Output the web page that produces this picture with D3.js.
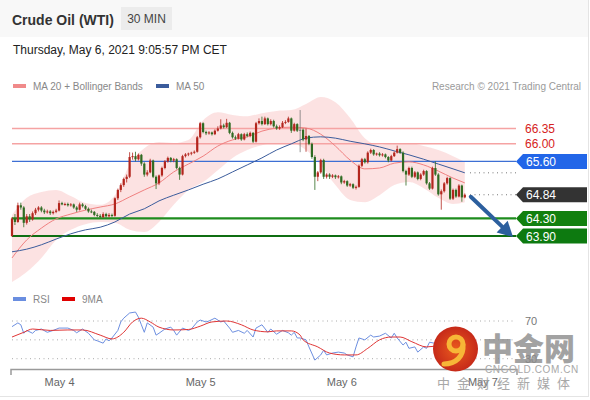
<!DOCTYPE html>
<html>
<head>
<meta charset="utf-8">
<script src="https://cdn.jsdelivr.net/npm/d3@7"></script>
<style>
  html, body { margin: 0; padding: 0; background: #fff; }
  svg { display: block; font-family: "Liberation Sans", Arial, sans-serif; }
</style>
</head>
<body>
<div id="chart"></div>
<script>
// 30 min candles, May 3 16:00 -> May 6 21:00 CET  [open, high, low, close]
const candles = [
  [63.90,64.33,63.88,64.30],[64.30,64.40,64.15,64.22],[64.22,64.66,64.20,64.60],[64.60,64.66,64.50,64.55],[64.55,64.58,64.10,64.20],
  [64.20,64.40,64.16,64.35],[64.35,64.40,64.22,64.28],[64.28,64.46,64.25,64.42],[64.42,64.54,64.38,64.50],[64.50,64.58,64.46,64.55],
  [64.55,64.58,64.44,64.48],[64.48,64.52,64.40,64.44],[64.44,64.50,64.41,64.46],[64.46,64.49,64.38,64.42],[64.42,64.48,64.39,64.45],
  [64.45,64.52,64.42,64.48],[64.48,64.71,64.46,64.65],[64.65,64.68,64.60,64.62],[64.62,64.66,64.59,64.63],[64.63,64.66,64.57,64.60],
  [64.60,64.65,64.57,64.62],[64.62,64.64,64.52,64.55],[64.55,64.58,64.45,64.50],[64.50,64.66,64.48,64.62],[64.62,64.65,64.55,64.58],
  [64.58,64.61,64.49,64.52],[64.52,64.55,64.43,64.46],[64.46,64.50,64.42,64.45],[64.45,64.47,64.35,64.38],[64.38,64.42,64.33,64.36],
  [64.36,64.40,64.31,64.33],[64.33,64.44,64.31,64.40],[64.40,64.43,64.32,64.35],[64.35,64.42,64.32,64.38],[64.38,64.41,64.33,64.36],
  [64.36,64.78,64.34,64.76],[64.76,64.98,64.72,64.95],[64.95,65.10,64.90,65.06],[65.06,65.23,65.02,65.20],[65.20,65.30,65.12,65.25],
  [65.25,65.81,65.22,65.70],[65.70,65.80,65.64,65.72],[65.72,65.82,65.60,65.65],[65.65,65.78,65.62,65.75],[65.75,65.77,65.50,65.55],
  [65.55,65.58,65.25,65.30],[65.30,65.40,65.26,65.35],[65.35,65.66,65.33,65.62],[65.62,65.64,65.22,65.25],[65.25,65.28,64.97,65.10],
  [65.10,65.30,65.06,65.28],[65.28,65.48,65.25,65.45],[65.45,65.63,65.42,65.60],[65.60,65.71,65.57,65.68],[65.68,65.70,65.58,65.62],
  [65.62,65.68,65.58,65.65],[65.65,65.67,65.42,65.45],[65.45,65.48,65.18,65.30],[65.30,65.75,65.28,65.72],[65.72,65.79,65.69,65.76],
  [65.76,65.80,65.72,65.78],[65.78,65.82,65.74,65.80],[65.80,65.85,65.77,65.82],[65.82,66.18,65.80,66.15],[66.15,66.50,66.12,66.47],
  [66.47,66.49,66.24,66.27],[66.27,66.30,66.20,66.24],[66.24,66.29,66.21,66.26],[66.26,66.28,66.19,66.22],[66.22,66.33,66.20,66.30],
  [66.30,66.40,66.28,66.35],[66.35,66.56,66.33,66.42],[66.42,66.46,66.35,66.38],[66.38,66.57,66.36,66.48],[66.48,66.50,66.22,66.25],
  [66.25,66.28,66.12,66.15],[66.15,66.19,66.09,66.12],[66.12,66.25,66.10,66.22],[66.22,66.24,66.07,66.10],[66.10,66.25,66.08,66.22],
  [66.22,66.26,66.15,66.18],[66.18,66.28,66.15,66.25],[66.25,66.27,66.02,66.05],[66.05,66.50,66.03,66.47],[66.47,66.58,66.44,66.52],
  [66.52,66.62,66.42,66.45],[66.45,66.62,66.43,66.58],[66.58,66.60,66.42,66.45],[66.45,66.56,66.42,66.52],[66.52,66.55,66.37,66.40],
  [66.40,66.44,66.32,66.35],[66.35,66.42,66.32,66.38],[66.38,66.52,66.36,66.48],[66.48,66.54,66.45,66.50],[66.50,66.62,66.48,66.58],
  [66.58,66.60,66.25,66.30],[66.30,66.48,66.28,66.45],[66.45,66.47,66.27,66.30],[66.30,66.77,65.81,66.32],[66.32,66.35,66.06,66.10],
  [66.10,66.35,65.82,66.18],[66.18,66.20,65.97,66.00],[66.00,66.03,65.66,65.70],[65.70,65.74,64.95,65.25],[65.25,65.38,65.15,65.35],
  [65.35,65.66,65.32,65.63],[65.63,65.66,65.20,65.25],[65.25,65.33,65.21,65.30],[65.30,65.33,65.20,65.25],[65.25,65.31,65.22,65.28],
  [65.28,65.30,65.20,65.24],[65.24,65.29,65.21,65.26],[65.26,65.28,65.08,65.12],[65.12,65.18,65.09,65.15],[65.15,65.17,65.02,65.05],
  [65.05,65.11,65.02,65.08],[65.08,65.10,64.97,65.00],[65.00,65.05,64.96,65.02],[65.02,65.53,65.00,65.50],[65.50,65.68,65.47,65.65],
  [65.65,65.68,65.55,65.58],[65.58,65.83,65.55,65.80],[65.80,65.89,65.77,65.86],[65.86,65.88,65.73,65.76],[65.76,65.80,65.73,65.78],
  [65.78,65.81,65.71,65.74],[65.74,65.79,65.71,65.76],[65.76,65.78,65.67,65.70],[65.70,65.72,65.58,65.62],[65.62,65.75,65.60,65.72],
  [65.72,65.83,65.70,65.80],[65.80,65.96,65.78,65.88],[65.88,65.90,65.77,65.80],[65.80,65.83,65.35,65.38],[65.38,65.41,65.05,65.30],
  [65.30,65.48,65.27,65.45],[65.45,65.48,65.22,65.25],[65.25,65.38,65.22,65.35],[65.35,65.37,65.17,65.20],[65.20,65.33,65.17,65.30],
  [65.30,65.41,65.27,65.38],[65.38,65.40,65.07,65.10],[65.10,65.13,64.95,64.98],[64.98,65.48,64.96,65.45],[65.45,65.60,65.27,65.30],
  [65.30,65.33,64.82,64.85],[64.85,64.96,64.50,64.92],[64.92,65.13,64.89,65.10],[65.10,65.25,65.07,65.22],[65.22,65.24,64.72,64.75],
  [64.75,64.98,64.72,64.95],[64.95,64.98,64.77,64.80],[64.80,65.08,64.78,65.05],[65.05,65.07,64.68,64.78],[64.78,64.87,64.76,64.84]
];
const startTime = new Date(2021, 4, 3, 16, 0);

// moving averages / bollinger bands, sampled at candle indexes
const maAt    = [0, 5, 10, 15, 20, 25, 30, 35, 40, 45, 50, 55, 60, 65, 70, 75, 80, 85, 90, 95, 100, 105, 110, 115, 120, 125, 130, 135, 140, 145, 150, 154];
const ma20    = [63.40,63.81,64.08,64.29,64.40,64.49,64.56,64.63,64.79,64.95,65.11,65.36,65.54,65.72,65.95,66.09,66.16,66.29,66.36,66.38,66.36,66.22,65.95,65.63,65.43,65.45,65.56,65.59,65.52,65.38,65.22,65.11];
const ma50    = [63.54,63.60,63.70,63.83,63.95,64.04,64.10,64.22,64.40,64.52,64.70,64.83,64.95,65.08,65.20,65.36,65.52,65.68,65.86,66.00,66.13,66.16,66.13,66.06,66.00,65.93,65.84,65.75,65.65,65.54,65.43,65.34];
const bbUpper = [64.38,64.77,64.90,64.95,64.81,64.65,64.61,64.83,65.52,65.90,66.04,66.02,66.09,66.54,66.72,66.66,66.63,66.70,66.75,66.77,66.91,67.07,66.95,66.59,66.13,65.97,66.02,66.02,65.95,65.86,65.72,65.59];
const bbLower = [62.85,63.08,63.40,63.81,64.04,64.17,64.22,64.20,64.04,63.99,64.22,64.61,64.95,65.13,65.40,65.68,65.86,65.97,66.02,66.02,65.86,65.52,65.06,64.72,64.67,64.83,65.06,65.13,64.99,64.77,64.63,64.67];

// RSI and its 9 period MA
const rsiAt = [0,2,3,4,5,7,8,10,12,14,16,19,21,22,24,26,28,29,31,32,33,34,36,37,38,40,42,43,44,45,46,48,49,50,52,54,55,56,58,60,61,63,64,66,67,69,71,72,74,75,77,79,80,82,83,85,87,88,90,92,94,95,96,97,98,100,101,103,105,106,107,109,111,113,114,116,117,118,120,122,123,125,127,129,130,131,133,134,135,137,138,140,141,142,146,149,152,154];
const rsi   = [64,68,66,57,60,57,60,61.5,58,60,62.5,62.5,60,57.5,61.5,57,50,49,46.5,51,49,52,60,69,73,78.5,79.5,74,66,58,68,63.5,55,57,61.5,63.5,60,55,62.5,60,61.5,69,71,69,70,73,69,70,62.5,58,60,57,60,53,62.5,66,58,61.5,56,60,57.5,55,58,52,52,50,42.5,28.5,34,39,34,36,37,36,34,32,42.5,52,50,55,53,54,57,52,57,52,44.5,47.5,41,42.5,37,42.5,41,47.5,45,40,38,40];
const rsiMaAt = [0,4,7,13,19,24,30,34,38,41,44,47,50,55,60,64,68,73,78,82,87,90,95,98,99,104,108,113,117,121,125,129,132,136,141,147,154];
const rsiMa   = [53,58,61.5,60,60.5,60.5,55,51,58,69,73,69,63.5,60.5,61,64.5,69,70,66,60.5,58.5,59.5,59.5,55,50,42.5,36,34,34,41,50,53,53,48,42.5,44,42];
const rsiLevels = [70, 50, 30];

// key levels
const resistances = [66.35, 66.00];
const pivot = 65.60;
const supports = [64.30, 63.90];
const dayTicks = [new Date(2021, 4, 4), new Date(2021, 4, 5), new Date(2021, 4, 6), new Date(2021, 4, 7)];

const W = 590, H = 400;
const plotLeft = 12, levelRight = 516, tagRight = 587;
const upColor = '#b3261e', downColor = '#2f6b22';

const svg = d3.select('#chart').append('svg')
  .attr('width', W)
  .attr('height', H);

// card background
svg.append('rect').attr('width', W).attr('height', H).attr('fill', '#fff');
svg.append('rect').attr('width', 588).attr('height', 37).attr('fill', '#f8f8f8');
svg.append('line').attr('x1', 588.5).attr('x2', 588.5).attr('y1', 0).attr('y2', 397)
  .attr('stroke', '#e4e4e4');
svg.append('line').attr('x1', 0).attr('x2', 589).attr('y1', 396.5).attr('y2', 396.5)
  .attr('stroke', '#e4e4e4');

// header
svg.append('text').attr('x', 12).attr('y', 25)
  .attr('font-size', 14).attr('font-weight', 'bold').attr('fill', '#333')
  .text('Crude Oil (WTI)');
svg.append('rect').attr('x', 121).attr('y', 7).attr('width', 51).attr('height', 23)
  .attr('fill', '#ececec');
svg.append('text').attr('x', 146.5).attr('y', 23).attr('text-anchor', 'middle')
  .attr('font-size', 12).attr('fill', '#444').text('30 MIN');
svg.append('text').attr('x', 13).attr('y', 54)
  .attr('font-size', 12).attr('fill', '#222')
  .text('Thursday, May 6, 2021 9:05:57 PM CET');

// legend
const legend = [
  { x: 13, color: '#f08a8a', label: 'MA 20 + Bollinger Bands' },
  { x: 156, color: '#3b5c9c', label: 'MA 50' }
];
legend.forEach(function(d) {
  svg.append('rect').attr('x', d.x).attr('y', 84).attr('width', 13).attr('height', 4).attr('fill', d.color);
  svg.append('text').attr('x', d.x + 20).attr('y', 90).attr('font-size', 10).attr('fill', '#888').text(d.label);
});
svg.append('text').attr('x', 581).attr('y', 90).attr('text-anchor', 'end')
  .attr('font-size', 10).attr('fill', '#9a9a9a').text('Research \u00a9 2021 Trading Central');

// scales
const timeAt = (i) => d3.timeMinute.offset(startTime, 30 * i);
const x = d3.scaleTime()
  .domain([timeAt(0), timeAt(candles.length - 1)])
  .range([plotLeft, 464.8]);
const y = d3.scaleLinear().domain([63.90, 66.35]).range([236, 128.5]);
const yr = d3.scaleLinear().domain([30, 70]).range([358.7, 321]);

const g = svg.append('g').attr('class', 'price');

// bollinger band
const band = d3.area()
  .curve(d3.curveMonotoneX)
  .x((d, k) => x(timeAt(maAt[k])))
  .y0((d, k) => y(bbLower[k]))
  .y1((d, k) => y(bbUpper[k]));
g.append('path').attr('d', band(maAt)).attr('fill', '#fbd3d3').attr('opacity', 0.65);

// horizontal levels
resistances.forEach(function(v) {
  g.append('line').attr('x1', plotLeft).attr('x2', levelRight).attr('y1', y(v)).attr('y2', y(v))
    .attr('stroke', '#f5a3a3').attr('stroke-width', 1.5);
  g.append('text').attr('x', 525).attr('y', y(v) + 4.5).attr('font-size', 12).attr('fill', '#d62222')
    .text(v.toFixed(2));
});
g.append('line').attr('x1', plotLeft).attr('x2', levelRight).attr('y1', y(pivot)).attr('y2', y(pivot))
  .attr('stroke', '#3d6fd4').attr('stroke-width', 1.2);
supports.forEach(function(v, k) {
  g.append('line').attr('x1', plotLeft).attr('x2', levelRight).attr('y1', y(v)).attr('y2', y(v))
    .attr('stroke', k === 0 ? '#1e8c1e' : '#0f6e12').attr('stroke-width', 2.2);
});

// moving averages
const maLine = (arr) => d3.line()
  .curve(d3.curveMonotoneX)
  .x((d, k) => x(timeAt(maAt[k])))
  .y((d, k) => y(arr[k]));
g.append('path').attr('d', maLine(ma20)(maAt)).attr('fill', 'none').attr('stroke', '#f08080').attr('stroke-width', 1);
g.append('path').attr('d', maLine(ma50)(maAt)).attr('fill', 'none').attr('stroke', '#3b5c9c').attr('stroke-width', 1);

// candles
const candleColor = function(d) {
  if (Math.abs(d[3] - d[0]) < 0.05 && d[1] - d[2] > 0.6) return '#777';
  return d[3] >= d[0] ? upColor : downColor;
};
const candle = g.selectAll('.candle')
  .data(candles)
  .enter()
  .append('g')
  .attr('class', 'candle');
candle.append('line')
  .attr('x1', (d, i) => x(timeAt(i)))
  .attr('x2', (d, i) => x(timeAt(i)))
  .attr('y1', (d) => y(d[1]))
  .attr('y2', (d) => y(d[2]))
  .attr('stroke', candleColor)
  .attr('stroke-width', 0.8);
candle.append('rect')
  .attr('x', (d, i) => x(timeAt(i)) - 1.1)
  .attr('width', 2.2)
  .attr('y', (d) => y(Math.max(d[0], d[3])))
  .attr('height', (d) => Math.max(1, Math.abs(y(d[0]) - y(d[3]))))
  .attr('fill', candleColor);

// dotted projections of last MA 50 and last close
const lastClose = candles[candles.length - 1][3];
[ma50[ma50.length - 1], lastClose].forEach(function(v) {
  g.append('line').attr('x1', 470).attr('x2', levelRight).attr('y1', y(v)).attr('y2', y(v))
    .attr('stroke', '#777').attr('stroke-dasharray', '1,3.5');
});

// price tags
const tag = function(v, color) {
  const yc = y(v);
  const pts = [[levelRight, yc], [523, yc - 7.5], [tagRight, yc - 7.5], [tagRight, yc + 7.5], [523, yc + 7.5]];
  g.append('path').attr('d', d3.line()(pts) + 'Z').attr('fill', color);
  g.append('text').attr('x', 526).attr('y', yc + 4.5).attr('font-size', 12).attr('fill', '#fff')
    .text(v.toFixed(2));
};
tag(pivot, '#2266e8');
tag(lastClose, '#333333');
tag(supports[0], '#12800f');
tag(supports[1], '#0d7a10');

// expected path arrow
const ax0 = x(timeAt(candles.length - 1)) + 6, ay0 = y(lastClose) + 2;
const ax1 = 513, ay1 = y(supports[1]) + 1;
const ang = Math.atan2(ay1 - ay0, ax1 - ax0);
const headLen = 15, headW = 8;
const bx = ax1 - headLen * Math.cos(ang), by = ay1 - headLen * Math.sin(ang);
g.append('line').attr('x1', ax0).attr('y1', ay0).attr('x2', bx).attr('y2', by)
  .attr('stroke', '#2c5f9e').attr('stroke-width', 4).attr('stroke-linecap', 'round');
g.append('path')
  .attr('d', d3.line()([
    [ax1, ay1],
    [bx + headW * Math.sin(ang), by - headW * Math.cos(ang)],
    [bx - headW * Math.sin(ang), by + headW * Math.cos(ang)]
  ]) + 'Z')
  .attr('fill', '#2c5f9e');

// RSI panel
const rg = svg.append('g').attr('class', 'rsi');
[{ x: 13, color: '#6a8ee0', label: 'RSI' }, { x: 62, color: '#e00000', label: '9MA' }].forEach(function(d) {
  rg.append('rect').attr('x', d.x).attr('y', 297).attr('width', 13).attr('height', 4).attr('fill', d.color);
  rg.append('text').attr('x', d.x + 20).attr('y', 303).attr('font-size', 10).attr('fill', '#888').text(d.label);
});
rsiLevels.forEach(function(v) {
  rg.append('line').attr('x1', plotLeft).attr('x2', levelRight).attr('y1', yr(v)).attr('y2', yr(v))
    .attr('stroke', '#aaa').attr('stroke-dasharray', '1,3.5');
  if (v !== 50) {
    rg.append('text').attr('x', 525).attr('y', yr(v) + 4).attr('font-size', 11).attr('fill', '#777').text(v);
  }
});
rg.append('path')
  .attr('d', d3.line().x((d, k) => x(timeAt(rsiAt[k]))).y((d, k) => yr(rsi[k]))(rsiAt))
  .attr('fill', 'none').attr('stroke', '#6d8fe0').attr('stroke-width', 1);
rg.append('path')
  .attr('d', d3.line().curve(d3.curveMonotoneX).x((d, k) => x(timeAt(rsiMaAt[k]))).y((d, k) => yr(rsiMa[k]))(rsiMaAt))
  .attr('fill', 'none').attr('stroke', '#e03535').attr('stroke-width', 1);

// time axis
svg.append('path').attr('d', 'M11,375V369.5H517V375').attr('fill', 'none')
  .attr('stroke', '#9a9a9a').attr('stroke-width', 1.5);
const xAxis = svg.append('g')
  .attr('transform', 'translate(0,369)')
  .call(d3.axisBottom(x).tickValues(dayTicks).tickFormat(d3.timeFormat('%b %-d')).tickSize(0).tickPadding(9));
xAxis.select('.domain').remove();
xAxis.selectAll('text').attr('font-size', 11).attr('fill', '#666').attr('font-family', '"Liberation Sans", Arial, sans-serif');

// watermark
const wm = svg.append('g').attr('class', 'watermark');
const grad = svg.append('defs').append('radialGradient').attr('id', 'logoGrad');
grad.append('stop').attr('offset', '0%').attr('stop-color', '#ea5a1e');
grad.append('stop').attr('offset', '100%').attr('stop-color', '#c62a19');
wm.append('circle').attr('cx', 455.5).attr('cy', 349).attr('r', 22.5).attr('fill', 'url(#logoGrad)');
wm.append('circle').attr('cx', 456).attr('cy', 344).attr('r', 7).attr('fill', 'none')
  .attr('stroke', '#f7b637').attr('stroke-width', 5);
wm.append('path').attr('d', 'M463,345 C464,356 456,364 444,364').attr('fill', 'none')
  .attr('stroke', '#f7b637').attr('stroke-width', 5).attr('stroke-linecap', 'round');
wm.append('text').attr('x', 482).attr('y', 360)
  .attr('font-family', '"Noto Sans CJK SC", sans-serif').attr('font-weight', 900)
  .attr('font-size', 31).attr('fill', '#8c8c8c').attr('opacity', 0.8)
  .text('中金网');
wm.append('text').attr('x', 485).attr('y', 373).attr('font-size', 10).attr('letter-spacing', 0.6)
  .attr('fill', '#a8a8a8').text('CNGOLD.COM.CN');
wm.append('text').attr('x', 437).attr('y', 388)
  .attr('font-family', '"Noto Sans CJK SC", sans-serif').attr('font-size', 13).attr('letter-spacing', 7)
  .attr('fill', '#9a9a9a').attr('opacity', 0.85).text('中金财经新媒体');
</script>
</body>
</html>
